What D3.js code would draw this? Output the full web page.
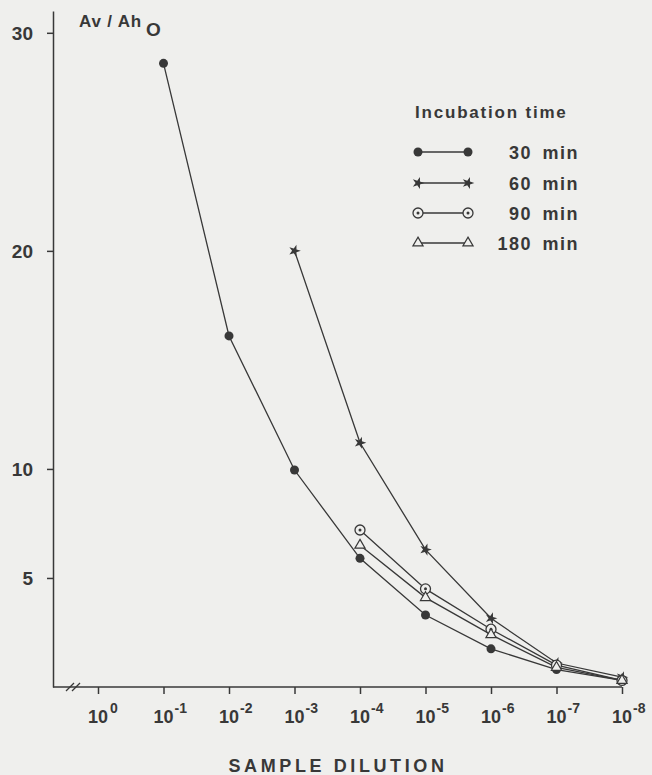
<!DOCTYPE html>
<html>
<head>
<meta charset="utf-8">
<script src="https://cdn.jsdelivr.net/npm/d3@7"></script>
<style>
  body { margin: 0; background: #efefed; }
  svg { display: block; }
  text { font-family: "Liberation Sans", Arial, sans-serif; fill: #383838; font-weight: bold; }
</style>
</head>
<body>
<script>
// dilution exponents: 10^0 ... 10^-8
const exponents = [0, 1, 2, 3, 4, 5, 6, 7, 8];
const yTicks = [5, 10, 20, 30];
const seriesNames = ['30 min', '60 min', '90 min', '180 min'];

const min30 = [[1, 28.6], [2, 16.1], [3, 9.95], [4, 5.9], [5, 3.3], [6, 1.75], [7, 0.8], [8, 0.3]];
const min60 = [[3, 20.0], [4, 11.2], [5, 6.3], [6, 3.15], [7, 1.1], [8, 0.45]];
const min90 = [[4, 7.2], [5, 4.5], [6, 2.65], [7, 1.0], [8, 0.3]];
const min180 = [[4, 6.5], [5, 4.1], [6, 2.4], [7, 0.9], [8, 0.3]];

const WIDTH = 652;
const HEIGHT = 775;
const INK = '#383838';
const BG = '#efefed';

const svg = d3.select('body').append('svg')
  .attr('width', WIDTH)
  .attr('height', HEIGHT);

const x = d3.scaleLinear().domain([0, 8]).range([98, 622]);
const y = d3.scaleLinear().domain([0, 31]).range([687, 11]);

// y axis
const yAxis = svg.append('g')
  .attr('transform', 'translate(53,0)')
  .call(d3.axisLeft(y).tickValues(yTicks).tickSize(6).tickPadding(14).tickSizeOuter(0));
yAxis.select('.domain').attr('stroke', INK).attr('stroke-width', 1.5);
yAxis.selectAll('.tick line').attr('stroke', INK).attr('stroke-width', 1.5);
yAxis.selectAll('.tick text')
  .attr('font-size', 19).attr('font-weight', 'bold').attr('dy', '0.36em')
  .style('fill', INK).attr('font-family', '"Liberation Sans", Arial, sans-serif');

// x axis
const xAxis = svg.append('g')
  .attr('transform', `translate(0,${y(0)})`)
  .call(d3.axisBottom(x).tickValues(exponents).tickSize(7).tickSizeOuter(0).tickFormat(''));
xAxis.select('.domain').remove();
xAxis.selectAll('.tick line').attr('stroke', INK).attr('stroke-width', 1.5);
svg.append('line')
  .attr('x1', 53).attr('x2', x(8))
  .attr('y1', y(0)).attr('y2', y(0))
  .attr('stroke', INK).attr('stroke-width', 1.5);

// axis break
[0, 6].forEach(off => {
  svg.append('line')
    .attr('x1', 66 + off).attr('y1', y(0) + 4)
    .attr('x2', 74 + off).attr('y2', y(0) - 4)
    .attr('stroke', INK).attr('stroke-width', 1.3);
});

// x tick labels: "10" centred on the tick, exponent to the right
const xl = svg.append('g');
exponents.forEach(e => {
  xl.append('text')
    .attr('x', x(e)).attr('y', 723)
    .attr('text-anchor', 'middle')
    .attr('font-size', 18)
    .text('10');
  xl.append('text')
    .attr('x', x(e) + (e === 0 ? 12 : 11)).attr('y', 713)
    .attr('font-size', 14)
    .text(e === 0 ? '0' : '-' + e);
});

svg.append('text')
  .attr('x', 338).attr('y', 772)
  .attr('text-anchor', 'middle')
  .attr('font-size', 18)
  .attr('letter-spacing', 3.6)
  .text('SAMPLE DILUTION');

// y label
const yl = svg.append('text')
  .attr('x', 79).attr('y', 27)
  .attr('font-size', 17)
  .attr('letter-spacing', 0.8);
yl.append('tspan').text('Av / Ah');
yl.append('tspan').attr('dx', 4).attr('dy', 9).attr('font-size', 19).text('O');

// markers
function drawMarker(g, kind, cx, cy) {
  if (kind === 0) {
    g.append('circle').attr('cx', cx).attr('cy', cy).attr('r', 4.5).attr('fill', INK);
  } else if (kind === 1) {
    g.append('path')
      .attr('transform', `translate(${cx},${cy}) rotate(18)`)
      .attr('d', d3.symbol().type(d3.symbolStar).size(45)())
      .attr('fill', INK);
  } else if (kind === 2) {
    g.append('circle').attr('cx', cx).attr('cy', cy).attr('r', 5).attr('fill', BG).attr('stroke', INK).attr('stroke-width', 1.3);
    g.append('circle').attr('cx', cx).attr('cy', cy).attr('r', 1.5).attr('fill', INK);
  } else {
    g.append('path')
      .attr('transform', `translate(${cx},${cy})`)
      .attr('d', d3.symbol().type(d3.symbolTriangle).size(45)())
      .attr('fill', BG).attr('stroke', INK).attr('stroke-width', 1.2);
  }
}

const line = d3.line().x(d => x(d[0])).y(d => y(d[1]));
const allSeries = [min30, min60, min90, min180];
allSeries.forEach(s => {
  svg.append('path').datum(s)
    .attr('d', line)
    .attr('fill', 'none').attr('stroke', INK).attr('stroke-width', 1.3);
});
allSeries.forEach((s, i) => {
  const g = svg.append('g');
  s.forEach(d => drawMarker(g, i, x(d[0]), y(d[1])));
});

// legend
const lg = svg.append('g');
lg.append('text')
  .attr('x', 415).attr('y', 118)
  .attr('font-size', 17)
  .attr('letter-spacing', 1.8)
  .text('Incubation time');
const rowY = [152, 183, 213, 243];
seriesNames.forEach((name, i) => {
  const ry = rowY[i];
  lg.append('line')
    .attr('x1', 418).attr('x2', 468)
    .attr('y1', ry).attr('y2', ry)
    .attr('stroke', INK).attr('stroke-width', 1.3);
  drawMarker(lg, i, 418, ry);
  drawMarker(lg, i, 468, ry);
  lg.append('text')
    .attr('x', 579).attr('y', ry + 7)
    .attr('text-anchor', 'end')
    .attr('font-size', 18)
    .attr('letter-spacing', 1.5)
    .attr('word-spacing', 4)
    .text(name);
});
</script>
</body>
</html>
